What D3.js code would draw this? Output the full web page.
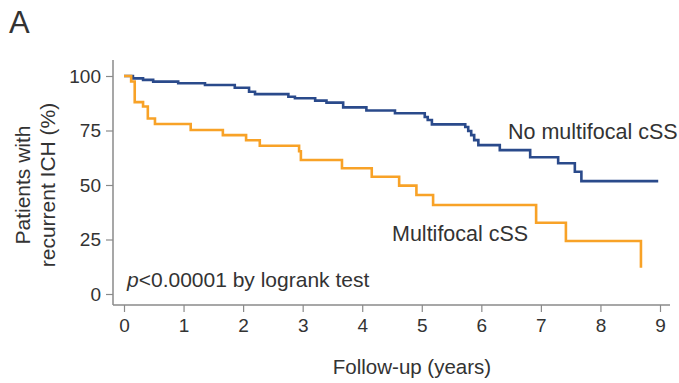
<!DOCTYPE html>
<html lang="en">
<head>
  <meta charset="UTF-8">
  <title>Recurrent ICH by multifocal cSS</title>
  <script src="https://d3js.org/d3.v7.min.js"></script>
  <style>
    body { margin: 0; background: #fff; }
    text { font-family: Arial, "Liberation Sans", Helvetica, sans-serif; fill: #333; }
  </style>
</head>
<body>
  <svg width="679" height="383"></svg>
  <script>
    // Kaplan-Meier steps (years, % free of recurrence)
    const noMultiTimes = [0, 0.15, 0.32, 0.49, 0.91, 1.36, 1.86, 2.1, 2.2, 2.76, 2.87, 3.21, 3.40, 3.68, 4.07, 4.55, 5.05, 5.10, 5.17, 5.73, 5.78, 5.83, 5.88, 5.95, 6.31, 6.82, 7.29, 7.57, 7.68, 8.97];
    const noMultiSurv  = [100, 98.9, 98.2, 97.4, 96.7, 95.9, 94.6, 92.8, 91.7, 90.5, 89.8, 88.7, 87.8, 85.6, 84.2, 82.9, 81.2, 79.8, 77.8, 76.6, 74.8, 72.9, 70.6, 68.3, 66, 62.7, 60, 56.1, 51.8, 51.8];

    const multiTimes = [0, 0.12, 0.18, 0.32, 0.40, 0.52, 1.12, 1.66, 2.05, 2.28, 2.94, 2.97, 3.66, 4.16, 4.62, 4.91, 5.19, 6.92, 7.42, 8.68];
    const multiSurv  = [100, 97.5, 88, 86, 80.5, 78, 75.2, 72.9, 70.5, 68, 65.5, 61.5, 57.7, 53.8, 49.7, 45.4, 40.8, 32.7, 24.3, 12];

    const xTicks = [0, 1, 2, 3, 4, 5, 6, 7, 8, 9];
    const yTicks = [0, 25, 50, 75, 100];

    const svg = d3.select('svg');
    const x = d3.scaleLinear().domain([0, 9]).range([124, 660]);
    const y = d3.scaleLinear().domain([0, 100]).range([294, 76]);

    // axes
    const xAxis = svg.append('g')
      .attr('transform', 'translate(0,305)')
      .call(d3.axisBottom(x).tickValues(xTicks).tickSize(7).tickPadding(7).tickSizeOuter(0));
    const yAxis = svg.append('g')
      .attr('transform', 'translate(113,0)')
      .call(d3.axisLeft(y).tickValues(yTicks).tickSize(7).tickPadding(5).tickSizeOuter(0));

    [xAxis, yAxis].forEach(a => {
      a.select('.domain').remove();
      a.selectAll('line').attr('stroke', '#8a8a8a').attr('stroke-width', 1.2);
      a.selectAll('text').attr('font-size', 19).style('fill', '#333');
    });

    svg.append('line').attr('x1', 113).attr('x2', 670).attr('y1', 305).attr('y2', 305)
      .attr('stroke', '#8a8a8a').attr('stroke-width', 1.5);
    svg.append('line').attr('x1', 113).attr('x2', 113).attr('y1', 60).attr('y2', 305)
      .attr('stroke', '#8a8a8a').attr('stroke-width', 1.5);

    // survival curves
    const line = d3.line().curve(d3.curveStepAfter)
      .x(d => x(d[0])).y(d => y(d[1]));

    svg.append('path')
      .attr('d', line(d3.zip(noMultiTimes, noMultiSurv)))
      .attr('fill', 'none').attr('stroke', '#2a4a8b').attr('stroke-width', 2.6);
    svg.append('path')
      .attr('d', line(d3.zip(multiTimes, multiSurv)))
      .attr('fill', 'none').attr('stroke', '#f8a227').attr('stroke-width', 2.6);

    // labels
    svg.append('text').attr('x', 9).attr('y', 33).attr('font-size', 31).text('A');

    svg.append('text').attr('x', 508).attr('y', 139).attr('font-size', 21.5).text('No multifocal cSS');
    svg.append('text').attr('x', 392).attr('y', 241).attr('font-size', 21.5).text('Multifocal cSS');

    const p = svg.append('text').attr('x', 127).attr('y', 287).attr('font-size', 21);
    p.append('tspan').attr('font-style', 'italic').text('p');
    p.append('tspan').text('<0.00001 by logrank test');

    svg.append('text').attr('x', 412).attr('y', 374).attr('font-size', 20.5)
      .attr('text-anchor', 'middle').text('Follow-up (years)');

    const yt = svg.append('text').attr('transform', 'translate(0,185) rotate(-90)')
      .attr('text-anchor', 'middle').attr('font-size', 21);
    yt.append('tspan').attr('x', 0).attr('y', 30).text('Patients with');
    yt.append('tspan').attr('x', 0).attr('y', 55).text('recurrent ICH (%)');
  </script>
</body>
</html>
